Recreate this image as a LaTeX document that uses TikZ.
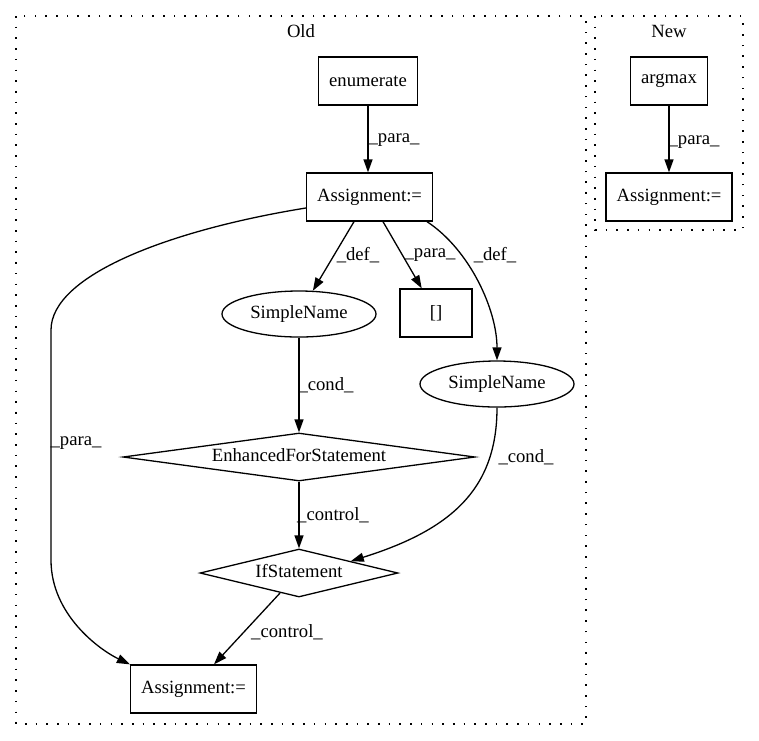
\documentclass[tikz,border=0pt]{standalone}
\usepackage{fontspec}
\setmainfont{Liberation Serif}
\usepackage{tikz}
\usetikzlibrary{calc}
\usetikzlibrary{arrows.meta,shapes.geometric}
\usetikzlibrary{positioning}
\tikzstyle{box}=[draw,rectangle,inner xsep=10.5pt,minimum width=72pt,minimum height=48pt]
\tikzstyle{oval}=[draw,ellipse,inner sep=0pt,minimum width=154pt,minimum height=46pt]
\tikzstyle{test}=[draw,diamond,inner sep=0pt,text height=10pt,text depth=2pt,minimum height=48pt]
\tikzstyle{lbl}=[inner sep=0pt]
\tikzstyle{flow}=[->,>={Triangle[length=13pt,width=9pt]}]
\tikzstyle{cluster}=[draw,dash pattern=on 1.6pt off 9.1pt]

\begin{document}
\begin{tikzpicture}[x=1pt,y=-1pt,line width=1.3pt,font=\fontsize{18.67}{22}\selectfont]
\useasboundingbox (0,0) rectangle (759,740);
\draw[cluster] (16,16) rectangle (586,724);
\draw[cluster] (595,16) rectangle (743,230);
\node (old) at (301,31)[lbl]{Old};
\node (new) at (669,31)[lbl]{New};
% old
\node (enum) at (368,81)[box]{enumerate};
\node (asg1) at (369.5,197)[box]{Assignment:=};
\node (sn1) at (299,314)[oval]{SimpleName};
\node (lst) at (436,313)[box]{[]};
\node (sn2) at (497,384)[oval]{SimpleName};
\node (efs) at (299,457)[test,shape aspect=7.33,minimum width=352pt]{EnhancedForStatement};
\node (ifs) at (299,573)[test,shape aspect=4.12,minimum width=198pt]{IfStatement};
\node (asg3) at (193.5,689)[box]{Assignment:=};
% new
\node (argm) at (669,81)[box]{argmax};
\node (asg2) at (669,197)[box]{Assignment:=};
% edges
\draw[flow] (enum.south) -- (enum.south |- asg1.north);
\draw[flow] ([xshift=-15.5pt]asg1.south) -- (sn1);
\draw[flow] ([xshift=13.5pt]asg1.south) -- (lst);
\draw[flow] ([xshift=57.5pt]asg1.south) .. controls (470,250) and (497,310) .. (sn2.north);
\draw[flow] ([yshift=-11pt]asg1.west) .. controls (170,230) and (51,275) .. (51,330)
  -- (51,560) .. controls (51,615) and (100,650) .. (asg3.north west);
\draw[flow] (sn1.south) -- (efs.north);
\draw[flow] (sn2.south) .. controls (497,490) and (450,530) .. ($(ifs.north)!0.52!(ifs.east)$);
\draw[flow] (efs.south) -- (ifs.north);
\draw[flow] ($(ifs.south)!0.19!(ifs.west)$) -- ([xshift=20.5pt]asg3.north);
\draw[flow] (argm.south) -- (asg2.north);
% labels
\node (l1) at (394,140)[lbl]{\_para\_};
\node (l2) at (358,255)[lbl]{\_def\_};
\node (l3) at (430,255)[lbl]{\_para\_};
\node (l4) at (495,255)[lbl]{\_def\_};
\node (l5) at (76,443)[lbl]{\_para\_};
\node (l6) at (326,385)[lbl]{\_cond\_};
\node (l7) at (526,457)[lbl]{\_cond\_};
\node (l8) at (333,515)[lbl]{\_control\_};
\node (l9) at (287,632)[lbl]{\_control\_};
\node (l10) at (694,142)[lbl]{\_para\_};
\end{tikzpicture}
\end{document}
